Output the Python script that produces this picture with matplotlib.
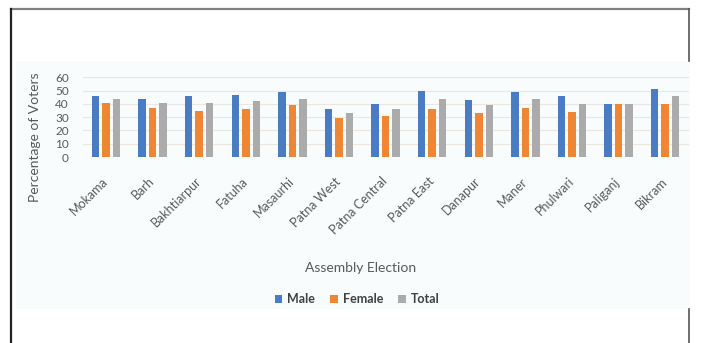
import matplotlib.pyplot as plt
import matplotlib.transforms as mtransforms
import numpy as np
from matplotlib.lines import Line2D
from matplotlib.patches import Rectangle

plt.rcParams['font.family'] = ['Lato', 'DejaVu Sans']

constituencies = ['Mokama', 'Barh', 'Bakhtiarpur', 'Fatuha', 'Masaurhi', 'Patna West',
                  'Patna Central', 'Patna East', 'Danapur', 'Maner', 'Phulwari',
                  'Paliganj', 'Bikram']
male = [46, 44, 46, 47, 49, 36, 40, 50, 43, 49, 46, 40, 51]
female = [41, 37, 35, 36, 39, 29, 31, 36, 33, 37, 34, 40, 40]
total = [44, 41, 41, 42, 44, 33, 36, 44, 39, 44, 40, 40, 46]

W, H = 702, 343
fig = plt.figure(figsize=(W / 100, H / 100), dpi=100)
fig.patch.set_facecolor('white')

# page frame + faint chart panel
fig.patches.append(Rectangle((16 / W, 1 - 309 / H), (690 - 16) / W, (309 - 61) / H,
                             transform=fig.transFigure, facecolor='#f8fcfc',
                             edgecolor='none', zorder=-5))
fig.lines.append(Line2D([11 / W, 689 / W], [1 - 9 / H, 1 - 9 / H],
                        transform=fig.transFigure, color='#808080', lw=1.6))
fig.lines.append(Line2D([11 / W, 11 / W], [0, 1 - 9 / H],
                        transform=fig.transFigure, color='#222222', lw=1.6))
fig.lines.append(Line2D([689 / W, 689 / W], [1 - 61 / H, 1 - 9 / H],
                        transform=fig.transFigure, color='#555555', lw=1.2))
fig.lines.append(Line2D([689 / W, 689 / W], [0, 1 - 309 / H],
                        transform=fig.transFigure, color='#555555', lw=1.2))

ax = fig.add_axes([82.7 / W, 1 - 157 / H, (688.5 - 82.7) / W, (157 - 77.3) / H])
ax.set_facecolor('none')
ax.set_zorder(2)

x = np.arange(len(constituencies))
off, bw = 0.225, 0.16
ax.bar(x - off, male, bw, color='#4a7cc4', label='Male', zorder=3)
ax.bar(x, female, bw, color='#ee8634', label='Female', zorder=3)
ax.bar(x + off, total, bw, color='#ababab', label='Total', zorder=3)

ax.set_xlim(-0.5, len(constituencies) - 0.5)
ax.set_ylim(0, 60)
ax.set_yticks(range(0, 61, 10))
ax.yaxis.grid(True, color='#ebe6e0', lw=0.8, zorder=0)
ax.set_axisbelow(True)
for s in ax.spines.values():
    s.set_visible(False)
ax.tick_params(axis='y', length=0, pad=10, labelsize=8.5, labelcolor='#595959')

ax.set_xticks(x)
ax.set_xticklabels(constituencies, rotation=45, ha='right', va='top')
ax.tick_params(axis='x', length=0, pad=13, labelsize=9, labelcolor='#595959')
shift = mtransforms.ScaledTranslation(4 / 100, 0, fig.dpi_scale_trans)
for lab in ax.get_xticklabels():
    lab.set_transform(lab.get_transform() + shift)

fig.text(35 / W, 1 - 137 / H, 'Percentage of Voters', rotation=90, ha='center',
         va='center', fontsize=10, color='#595959')
fig.text(361 / W, 1 - 268 / H, 'Assembly Election', ha='center', va='center',
         fontsize=10, color='#595959')

fig.legend(loc='center', bbox_to_anchor=(357 / W, 1 - 299 / H), ncol=3, frameon=False,
           handlelength=0.6, handleheight=0.6, handletextpad=0.4,
           columnspacing=1.2, labelcolor='#404040',
           prop={'weight': 'bold', 'size': 9})

fig.savefig('out.png', dpi=100)
